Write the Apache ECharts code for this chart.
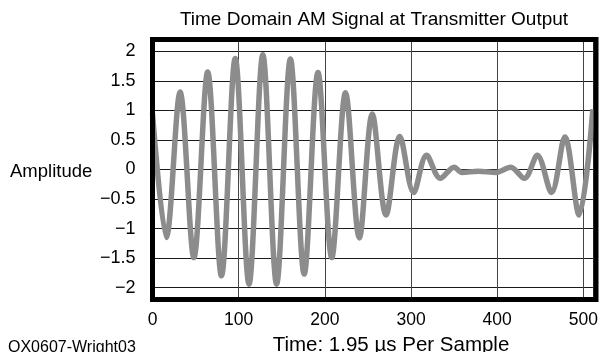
<!DOCTYPE html>
<html>
<head>
<meta charset="utf-8">
<script src="https://cdn.jsdelivr.net/npm/echarts@6/dist/echarts.min.js"></script>
<style>
  html, body { margin: 0; padding: 0; background: #fff; }
  #main { width: 601px; height: 352px; }
</style>
</head>
<body>
<div id="main"></div>
<script>
// sample index of each turning point of the waveform
const sampleIdx = [0, 16, 32, 48, 64, 80, 96, 112, 128, 144, 160, 176, 192, 208, 224, 240,
  255, 271, 287, 303, 318, 334, 350, 359, 378, 399, 415.5, 431.5, 446.5, 463, 478.5, 495, 511];
// amplitude at those samples
const amplitude = [0.95, -1.15, 1.31, -1.49, 1.65, -1.80, 1.88, -1.94, 1.94, -1.94, 1.87, -1.77, 1.64, -1.49, 1.30, -1.16,
  0.94, -0.77, 0.56, -0.39, 0.24, -0.15, 0.04, -0.05, -0.03, -0.05, 0.04, -0.15, 0.24, -0.39, 0.55, -0.77, 1.02];

const titleText = 'Time Domain AM Signal at Transmitter Output';
const xName = 'Time: 1.95 µs Per Sample';
const yName = 'Amplitude';
const figId = 'QX0607-Wright03';

const FONT = '"Liberation Sans", Arial, Helvetica, sans-serif';
// plot rectangle
const GL = 152.5, GT = 39.5, GR = 596, GB = 299.5;

const myChart = echarts.init(document.querySelector('#main'));

const points = sampleIdx.map((x, i) => [x, amplitude[i]]);

let option = {
    animation: false,
    grid: {
        left: GL,
        top: GT,
        right: 601 - GR,
        bottom: 352 - GB,
        containLabel: false,
        show: false
    },
    xAxis: {
        type: 'value',
        min: 0,
        max: 511,
        interval: 100,
        axisLine: { show: false },
        axisTick: { show: false },
        axisLabel: {
            showMaxLabel: false,
            margin: 12,
            color: '#000',
            fontFamily: FONT,
            fontSize: 17.5
        },
        splitLine: { lineStyle: { color: '#444', width: 1 } }
    },
    yAxis: {
        type: 'value',
        min: -2.2,
        max: 2.2,
        splitNumber: 9,
        axisLine: { show: false },
        axisTick: { show: false },
        axisLabel: {
            showMinLabel: false,
            showMaxLabel: false,
            margin: 17,
            color: '#000',
            fontFamily: FONT,
            fontSize: 18,
            formatter: v => (v < 0 ? '\u2212' + Math.abs(v) : String(v))
        },
        splitLine: { lineStyle: { color: '#1a1a1a', width: 1.2 } }
    },
    series: [
        {
            type: 'line',
            data: points,
            showSymbol: false,
            smooth: 0.33,
            clip: true,
            lineStyle: { color: '#8c8c8c', width: 5.5 },
            z: 3
        }
    ],
    graphic: [
        {
            type: 'rect',
            silent: true,
            z: 100,
            shape: { x: GL, y: GT, width: GR - GL, height: GB - GT },
            style: { fill: 'none', stroke: '#000', lineWidth: 5 }
        },
        {
            type: 'text', x: 374, y: 20,
            style: { text: titleText, font: '19px ' + FONT, fill: '#000',
                textAlign: 'center', textVerticalAlign: 'middle', align: 'center', verticalAlign: 'middle' }
        },
        {
            type: 'text', x: 10, y: 172,
            style: { text: yName, font: '18.5px ' + FONT, fill: '#000',
                textAlign: 'left', textVerticalAlign: 'middle', align: 'left', verticalAlign: 'middle' }
        },
        {
            type: 'text', x: 391, y: 345,
            style: { text: xName, font: '20.5px ' + FONT, fill: '#000',
                textAlign: 'center', textVerticalAlign: 'middle', align: 'center', verticalAlign: 'middle' }
        },
        {
            type: 'text', x: 8, y: 348,
            style: { text: figId, font: '16px ' + FONT, fill: '#000',
                textAlign: 'left', textVerticalAlign: 'middle', align: 'left', verticalAlign: 'middle' }
        }
    ]
};
myChart.setOption(option, true);
</script>
</body>
</html>
